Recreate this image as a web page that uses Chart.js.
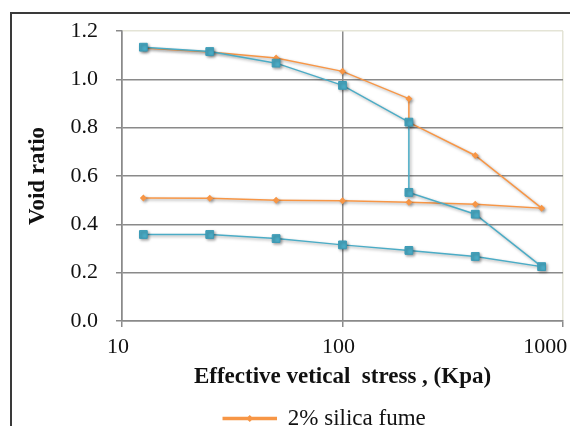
<!DOCTYPE html>
<html>
<head>
<meta charset="utf-8">
<script src="https://cdn.jsdelivr.net/npm/chart.js@4.4.0/dist/chart.umd.min.js"></script>
<style>
  html, body { margin: 0; padding: 0; background: #fff; overflow: hidden; }
  #frame { position: absolute; left: 10px; top: 12px; width: 620px; height: 480px; border: 2px solid #3a3a3a; }
  #wrap { position: absolute; left: 0; top: 0; width: 570px; height: 440px; }
</style>
</head>
<body>
<div id="frame"></div>
<div id="wrap"><canvas id="chart" width="570" height="440"></canvas></div>
<script>
// axis ticks
const xTicks = [10, 100, 1000];
const yTicks = [0, 0.2, 0.4, 0.6, 0.8, 1.0, 1.2];

// 2% silica fume (loading, then unloading)
const stressSF = [12.5, 25, 50, 100, 200, 200, 400, 800, 400, 200, 100, 50, 25, 12.5];
const voidSF = [1.13, 1.113, 1.088, 1.033, 0.92, 0.822, 0.685, 0.467, 0.483, 0.491, 0.498, 0.50, 0.508, 0.509];

// second sample (legend entry cut off in the picture)
const stressRef = [12.5, 25, 50, 100, 200, 200, 400, 800, 400, 200, 100, 50, 25, 12.5];
const voidRef = [1.133, 1.115, 1.067, 0.975, 0.823, 0.532, 0.442, 0.225, 0.267, 0.292, 0.315, 0.341, 0.358, 0.358];

const orange = '#f79646';
const blue = '#4bacc6';
const gridGray = '#8a8a8a';
const faint = '#e4e4d6';
const serif = "'Liberation Serif', 'Times New Roman', serif";

const toPoints = (xs, ys) => xs.map((x, i) => ({ x: x, y: ys[i] }));

// soft shadow under lines and markers, like the office chart
const shadowPlugin = {
  id: 'markerShadow',
  beforeDatasetsDraw(chart) {
    const c = chart.ctx;
    c.save();
    c.shadowColor = 'rgba(0,0,0,0.35)';
    c.shadowBlur = 3;
    c.shadowOffsetX = 1.5;
    c.shadowOffsetY = 1.5;
  },
  afterDatasetsDraw(chart) {
    chart.ctx.restore();
  }
};

// legend sits a bit left of the plot centre in the original
const legendNudge = {
  id: 'legendNudge',
  afterLayout(chart) {
    chart.legend.left -= 18;
    chart.legend.right -= 18;
  }
};

// diamond on the legend line
const legendDiamond = {
  id: 'legendDiamond',
  afterDraw(chart) {
    const box = chart.legend && chart.legend.legendHitBoxes[0];
    if (!box) return;
    const c = chart.ctx;
    const cx = box.left + 53 / 2, cy = box.top + box.height / 2;
    c.save();
    c.fillStyle = orange;
    c.beginPath();
    c.moveTo(cx, cy - 3.5);
    c.lineTo(cx + 3.5, cy);
    c.lineTo(cx, cy + 3.5);
    c.lineTo(cx - 3.5, cy);
    c.closePath();
    c.fill();
    c.restore();
  }
};

const ctx = document.getElementById('chart').getContext('2d');
new Chart(ctx, {
  type: 'line',
  data: {
    datasets: [{
      label: '2% silica fume',
      data: toPoints(stressSF, voidSF),
      borderColor: orange,
      backgroundColor: orange,
      borderWidth: 1.5,
      pointStyle: 'rectRot',
      pointRadius: 3.5,
      pointBorderWidth: 0,
      order: 2
    }, {
      label: 'sample',
      data: toPoints(stressRef, voidRef),
      borderColor: blue,
      backgroundColor: blue,
      borderWidth: 1.5,
      pointStyle: 'rect',
      pointRadius: 5.5,
      pointBorderColor: '#3b9bb6',
      pointBorderWidth: 1,
      order: 1
    }]
  },
  options: {
    responsive: false,
    animation: false,
    layout: { padding: { top: 31, right: 7, left: 0, bottom: 0 } },
    plugins: {
      legend: {
        position: 'bottom',
        fullSize: false,
        labels: {
          filter: item => item.datasetIndex === 0,
          boxWidth: 53,
          boxHeight: 2,
          padding: 4,
          color: '#111',
          font: { family: serif, size: 23 }
        }
      },
      tooltip: { enabled: false }
    },
    scales: {
      x: {
        type: 'logarithmic',
        min: 10,
        max: 1000,
        afterBuildTicks: s => { s.ticks = xTicks.map(v => ({ value: v })); },
        afterFit: s => { s.height = 82; s.paddingLeft = 0; s.paddingRight = 0; },
        grid: {
          color: c => (c.tick && c.tick.value === 1000 ? faint : gridGray),
          lineWidth: 1.5,
          tickLength: 6,
          tickColor: gridGray
        },
        border: { color: gridGray, width: 1.5 },
        ticks: {
          color: '#111',
          font: { family: serif, size: 22 },
          padding: 7,
          labelOffset: -4,
          maxRotation: 0,
          autoSkip: false,
          callback: v => (v === 1000 ? String(v) + '     ' : String(v))
        },
        title: {
          display: true,
          text: 'Effective vetical  stress , (Kpa)',
          color: '#111',
          font: { family: serif, size: 23, weight: 'bold' },
          padding: { top: 12, bottom: 12 }
        }
      },
      y: {
        min: 0,
        max: 1.2,
        afterBuildTicks: s => { s.ticks = yTicks.map(v => ({ value: v })); },
        afterFit: s => { s.width = 122; s.paddingTop = 0; s.paddingBottom = 0; },
        grid: {
          color: c => (c.tick && c.tick.value === 1.2 ? faint : gridGray),
          lineWidth: 1.5,
          tickLength: 6,
          tickColor: gridGray
        },
        border: { color: gridGray, width: 1.5 },
        ticks: {
          color: '#111',
          font: { family: serif, size: 22 },
          padding: 18,
          callback: v => Number(v).toFixed(1)
        },
        title: {
          display: true,
          text: 'Void ratio',
          color: '#111',
          font: { family: serif, size: 23, weight: 'bold' },
          padding: { top: 24, bottom: 24 }
        }
      }
    }
  },
  plugins: [shadowPlugin, legendNudge, legendDiamond]
});
</script>
</body>
</html>
